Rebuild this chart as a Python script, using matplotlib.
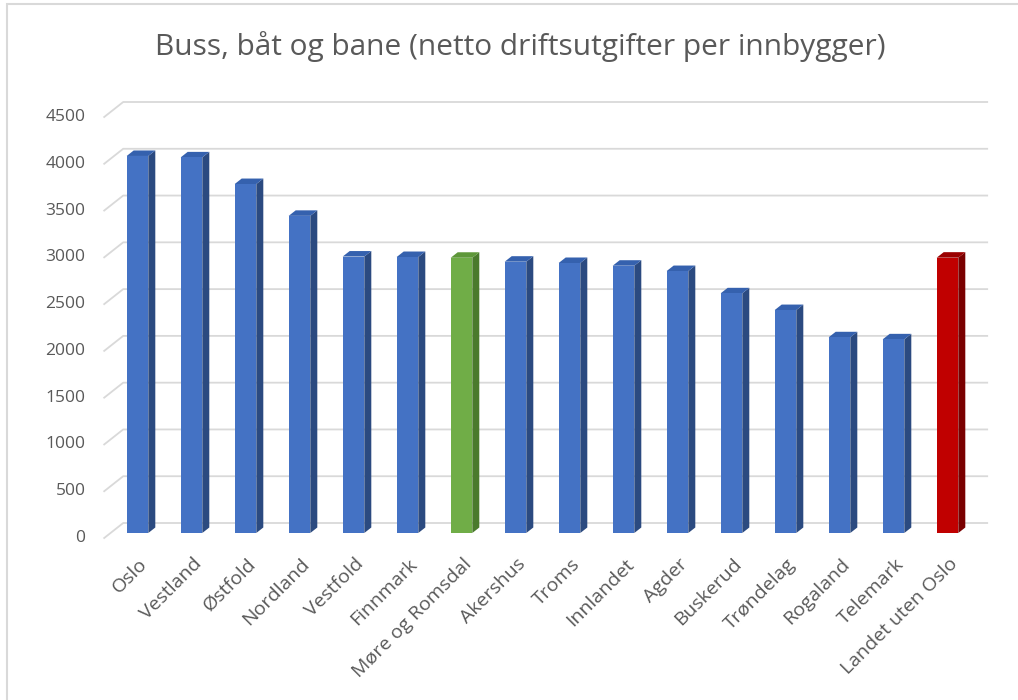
import numpy as np
import matplotlib
matplotlib.use("Agg")
import matplotlib.pyplot as plt
from matplotlib.patches import Polygon, Rectangle
from matplotlib.transforms import IdentityTransform

plt.rcParams['font.family'] = ['Open Sans', 'DejaVu Sans']

fylker = ['Oslo', 'Vestland', 'Østfold', 'Nordland', 'Vestfold', 'Finnmark',
          'Møre og Romsdal', 'Akershus', 'Troms', 'Innlandet', 'Agder',
          'Buskerud', 'Trøndelag', 'Rogaland', 'Telemark', 'Landet uten Oslo']
utgifter = [4030, 4015, 3730, 3390, 2955, 2950, 2942, 2900, 2886, 2857,
            2800, 2562, 2383, 2092, 2070, 2943]
yticks = [0, 500, 1000, 1500, 2000, 2500, 3000, 3500, 4000, 4500]

# farger: (front, side, topp)
blaa = ('#4472C4', '#2B4A80', '#3561AE')
groenn = ('#70AD47', '#4A7A2C', '#5E9739')
roed = ('#C00000', '#7A0000', '#9A0000')
farger = [blaa] * len(fylker)
farger[fylker.index('Møre og Romsdal')] = groenn
farger[fylker.index('Landet uten Oslo')] = roed

tekst = '#595959'
grid = '#D9D9D9'

fig = plt.figure(figsize=(10.18, 7), dpi=100)
W, H = 1018, 700
ax = fig.add_axes([110.5 / W, (H - 533) / H, 864 / W, 421 / H])
ax.set_xlim(-0.5, 15.5)
ax.set_ylim(0, 4500)
ax.set_axis_off()

# bakvegg: gridlinjer forskjøvet bakover, med skrå linje ut til venstre
px_x = 54 / 1.0            # piksler per kategori
px_y = 421 / 4500          # piksler per enhet
bak = (12.7, 10)
fram = (-6.3, -5)
for t in yticks:
    p = ax.transData.transform((-0.5, t))
    q = ax.transData.transform((15.5, t))
    fig.add_artist(plt.Line2D([p[0] + fram[0], p[0] + bak[0], q[0] + bak[0]],
                              [p[1] + fram[1], p[1] + bak[1], q[1] + bak[1]],
                              transform=IdentityTransform(), color=grid, lw=1.3,
                              zorder=0))

# 3D-søyler: forside + side + topp
bredde = 0.4
dx = 7 / px_x
dy = 5.5 / px_y
x = np.arange(len(fylker))
ax.bar(x, utgifter, width=bredde, color=[f[0] for f in farger], zorder=3)
for xi, v, f in zip(x, utgifter, farger):
    x0, x1 = xi - bredde / 2, xi + bredde / 2
    side = Polygon([(x1, 0), (x1 + dx, dy), (x1 + dx, v + dy), (x1, v)],
                   closed=True, facecolor=f[1], edgecolor='none', zorder=2)
    topp = Polygon([(x0, v), (x0 + dx, v + dy), (x1 + dx, v + dy), (x1, v)],
                   closed=True, facecolor=f[2], edgecolor='none', zorder=2)
    ax.add_patch(side)
    ax.add_patch(topp)

# aksetekster
for t in yticks:
    p = ax.transData.transform((-0.5, t))
    fig.text((p[0] - 25) / W, (p[1] - 5) / H, str(t), ha='right', va='center',
             fontsize=12.5, color=tekst)

for xi, navn in zip(x, fylker):
    p = ax.transData.transform((xi, 0))
    fig.text((p[0] + 1) / W, (p[1] - 22) / H, navn, ha='right', va='top',
             rotation=45, rotation_mode='anchor', fontsize=14, color=tekst)

fig.text(520 / W, (H - 47) / H,
         'Buss, båt og bane (netto driftsutgifter per innbygger)',
         ha='center', va='center', fontsize=21.5, color=tekst)

# ramme rundt diagramområdet
fig.add_artist(Rectangle((7 / W, -0.1), 1.2, (H - 4) / H + 0.1,
                         transform=fig.transFigure, fill=False,
                         edgecolor=grid, lw=1.5))

fig.savefig('out.png', dpi=100)
